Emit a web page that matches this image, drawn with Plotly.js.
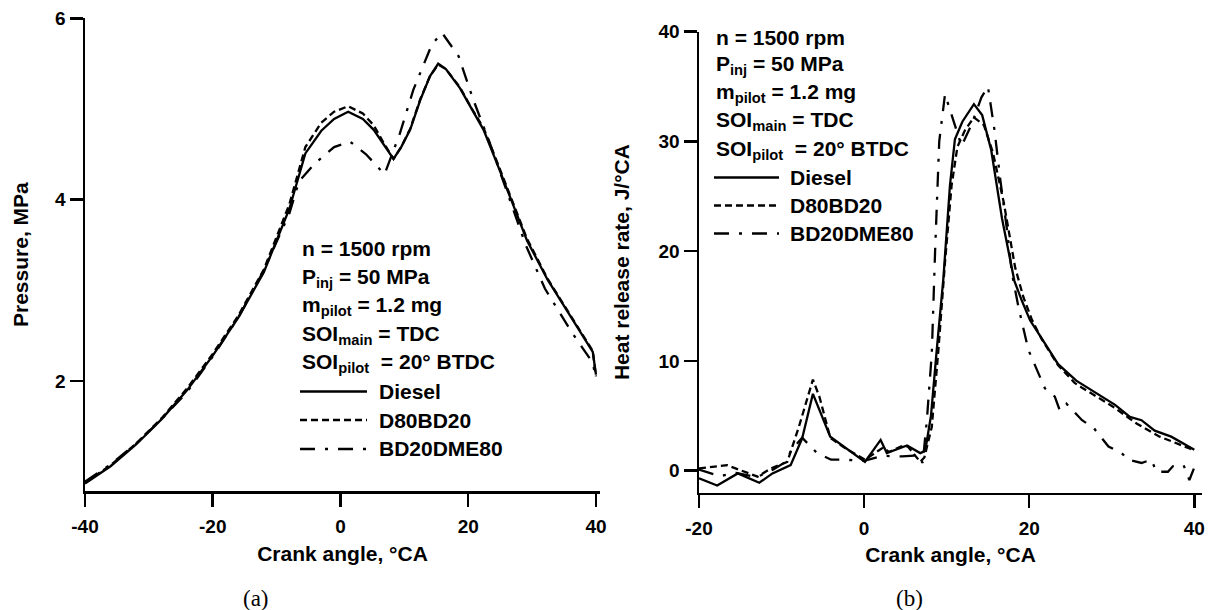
<!DOCTYPE html>
<html><head><meta charset="utf-8">
<script src="https://cdn.plot.ly/plotly-3.0.1.min.js"></script>
<style>html,body{margin:0;padding:0;background:#fff}#chart{width:1214px;height:610px}</style>
</head><body><div id="chart"></div>
<script>
// ---------- data ----------
const seriesNames = ['Diesel', 'D80BD20', 'BD20DME80'];

// (a) cylinder pressure, MPa vs crank angle, °CA
const pressDieselX = [-40, -36, -32, -28, -24, -20, -16, -12, -8, -5.5, -3, -1, 1.2, 3.5, 5.2, 6.8, 8.3, 9.5, 10.9, 12.5, 14, 15.3, 16.5, 18.7, 20.5, 22.4, 24.5, 26.5, 29.2, 32.4, 36, 39.5, 40];
const pressDieselY = [0.87, 1.06, 1.30, 1.58, 1.90, 2.28, 2.70, 3.20, 3.90, 4.51, 4.76, 4.89, 4.97, 4.89, 4.77, 4.60, 4.45, 4.58, 4.77, 5.10, 5.36, 5.50, 5.44, 5.23, 5.00, 4.77, 4.40, 4.03, 3.55, 3.12, 2.72, 2.32, 2.07];
const pressD80X = [-40, -36, -32, -28, -24, -20, -16, -12, -8, -5.5, -3, -1, 1.2, 3.5, 5.2, 6.8, 8.3, 9.5, 10.9, 12.5, 14, 15.3, 16.5, 18.7, 20.5, 22.4, 24.5, 26.5, 29.2, 32.4, 36, 39.5, 40];
const pressD80Y = [0.88, 1.07, 1.31, 1.59, 1.92, 2.30, 2.72, 3.23, 3.95, 4.58, 4.85, 4.97, 5.03, 4.95, 4.82, 4.62, 4.45, 4.58, 4.78, 5.11, 5.36, 5.49, 5.44, 5.24, 5.01, 4.79, 4.42, 4.05, 3.57, 3.13, 2.72, 2.33, 2.05];
const pressDmeX = [-40, -36, -32, -28, -24, -20, -16, -12, -8, -6.5, -4, -1, 1.5, 4, 6.9, 9.3, 11.4, 14.3, 15.9, 18.5, 20.8, 23.4, 26, 29, 32, 36, 39.5, 40];
const pressDmeY = [0.89, 1.08, 1.31, 1.58, 1.88, 2.27, 2.70, 3.22, 3.85, 4.20, 4.40, 4.58, 4.64, 4.50, 4.28, 4.73, 5.21, 5.71, 5.84, 5.58, 5.10, 4.62, 4.10, 3.50, 3.02, 2.56, 2.20, 2.02];

// (b) heat release rate, J/°CA vs crank angle, °CA
const hrrDieselX = [-20, -17.8, -15.3, -12.7, -11.1, -8.9, -7.5, -6.2, -4.1, -2.4, 0.1, 2.0, 2.75, 5.2, 6.8, 7.4, 8.1, 8.8, 9.6, 10.4, 11.0, 11.9, 13.3, 14.3, 15.4, 16.7, 18.2, 19.1, 20.1, 21.3, 23.5, 25.7, 28.0, 30.4, 32.2, 33.6, 35.2, 37.2, 40];
const hrrDieselY = [-0.7, -1.35, -0.25, -1.1, -0.25, 0.5, 2.95, 7.0, 3.1, 2.2, 0.8, 2.8, 1.6, 2.3, 1.6, 1.8, 5.0, 11.0, 17.5, 26.0, 30.2, 31.8, 33.4, 32.4, 29.2, 23.0, 17.3, 15.5, 13.7, 12.3, 9.7, 8.2, 7.1, 6.0, 4.9, 4.6, 3.65, 3.1, 1.9];
const hrrD80X = [-20, -16.6, -12.9, -11.3, -9.3, -7.9, -6.2, -5.4, -4.1, -2.4, 0.1, 1.5, 2.3, 3.0, 4.5, 5.3, 6.8, 7.3, 8.2, 9.0, 9.8, 10.6, 11.3, 12.2, 13.3, 14.5, 15.6, 16.9, 18.3, 19.3, 20.3, 21.5, 23.5, 25.5, 26.5, 28.5, 30.2, 33.0, 35.8, 39.5, 40];
const hrrD80Y = [0.2, 0.5, -0.55, 0.2, 0.8, 4.0, 8.3, 6.7, 3.0, 2.1, 1.0, 1.7, 2.1, 1.7, 2.2, 2.2, 0.8, 1.2, 4.0, 11.0, 19.0, 26.0, 29.5, 31.0, 32.2, 31.5, 29.0, 24.5, 18.5, 15.8, 13.8, 12.0, 9.6, 8.0, 7.5, 6.6, 5.8, 4.3, 3.1, 2.0, 1.8];
const hrrDmeX = [-20, -17.5, -15.5, -13, -11, -9.5, -8.8, -7.5, -5.7, -4, -2.5, 0, 2.2, 4.6, 6.5, 7.1, 7.6, 8.2, 8.6, 9.1, 9.8, 10.8, 11.8, 13.0, 14.2, 15.0, 15.8, 16.5, 17.3, 17.9, 18.7, 19.9, 20.7, 21.9, 23.1, 23.7, 24.5, 26.4, 27.8, 28.6, 29.6, 31.2, 32.0, 33.6, 34.8, 35.4, 36.8, 37.4, 38.7, 39.4, 40];
const hrrDmeY = [0.1, -0.5, -0.2, -0.6, 0.1, 0.8, 1.9, 3.0, 1.6, 1.0, 1.0, 0.9, 1.35, 1.3, 1.4, 0.7, 4.6, 10.7, 20.0, 30.0, 34.3, 32.0, 29.6, 31.5, 34.0, 35.0, 31.0, 26.5, 22.0, 18.0, 14.9, 11.0, 9.6, 7.5, 6.75, 5.5, 6.1, 4.6, 3.9, 3.1, 2.2, 1.6, 1.0, 0.7, 1.0, -0.1, -0.1, 0.4, 0.5, -0.85, 0.3];

const pressTicks = [2, 4, 6];
const pressTickText = ['2', '4', '6'];
const pressXTicks = [-40, -20, 0, 20, 40];
const pressXTickText = ['-40', '-20', '0', '20', '40'];
const hrrTicks = [0, 10, 20, 30, 40];
const hrrTickText = ['0', '10', '20', '30', '40'];
const hrrXTicks = [-20, 0, 20, 40];
const hrrXTickText = ['-20', '0', '20', '40'];

const conditionLines = ['n = 1500 rpm', 'P<sub>inj</sub> = 50 MPa', 'm<sub>pilot</sub> = 1.2 mg', 'SOI<sub>main</sub> = TDC', 'SOI<sub>pilot</sub>\u00a0 = 20° BTDC'];

// ---------- styling ----------
const W = 1214, H = 610;
const fx = px => px / W;
const fy = py => 1 - py / H;
const FONT = 'Liberation Sans, Arial, Helvetica, sans-serif';
const dashes = ['solid', '7px,4px', '15px,10px,3px,10px'];
const LW = 2.3;

const pressX = [pressDieselX, pressD80X, pressDmeX];
const pressY = [pressDieselY, pressD80Y, pressDmeY];
const hrrX = [hrrDieselX, hrrD80X, hrrDmeX];
const hrrY = [hrrDieselY, hrrD80Y, hrrDmeY];

const traces = [];
seriesNames.forEach((name, i) => {
  traces.push({x: pressX[i], y: pressY[i], name: name, mode: 'lines', xaxis: 'x', yaxis: 'y',
    line: {color: '#000', width: LW, dash: dashes[i]}, showlegend: false});
});
seriesNames.forEach((name, i) => {
  traces.push({x: hrrX[i], y: hrrY[i], name: name, mode: 'lines', xaxis: 'x2', yaxis: 'y2',
    line: {color: '#000', width: LW, dash: dashes[i]}, showlegend: false});
});

const tickFont = {family: FONT, size: 19, color: '#000', weight: 'bold'};
const titleFont = {family: FONT, size: 21, color: '#000', weight: 'bold'};
const axisBase = {
  showline: true, linecolor: '#000', linewidth: 2.5, ticks: 'outside', ticklen: 13,
  tickwidth: 2.5, tickcolor: '#000', showgrid: false, zeroline: false,
  tickfont: tickFont, fixedrange: true, tickmode: 'array'
};

const annotations = [];
const shapes = [];
function addBlock(x0, rows, legendRows, lineEnd, textX) {
  conditionLines.forEach((t, k) => {
    annotations.push({xref: 'paper', yref: 'paper', x: fx(x0), y: fy(rows[k] + (t.indexOf('<sub>') >= 0 ? 3 : 0)),
      xanchor: 'left', yanchor: 'middle', text: t, showarrow: false, font: titleFont});
  });
  seriesNames.forEach((name, k) => {
    annotations.push({xref: 'paper', yref: 'paper', x: fx(textX), y: fy(legendRows[k]),
      xanchor: 'left', yanchor: 'middle', text: name, showarrow: false, font: titleFont});
    shapes.push({type: 'line', xref: 'paper', yref: 'paper', x0: fx(x0), x1: fx(lineEnd),
      y0: fy(legendRows[k]), y1: fy(legendRows[k]), line: {color: '#000', width: LW, dash: dashes[k]}});
  });
}
addBlock(300, [248, 275, 303, 331.5, 360], [391.5, 420, 449], 367, 377);
addBlock(714, [37, 62, 90.5, 118.5, 147], [177.5, 205.5, 233.5], 779, 788);

const serif = {family: 'Liberation Serif, Times New Roman, serif', size: 23, color: '#000'};
annotations.push({xref: 'paper', yref: 'paper', x: fx(256), y: fy(598), xanchor: 'center', yanchor: 'middle',
  text: '(a)', showarrow: false, font: serif});
annotations.push({xref: 'paper', yref: 'paper', x: fx(909), y: fy(598), xanchor: 'center', yanchor: 'middle',
  text: '(b)', showarrow: false, font: serif});

const layout = {
  width: W, height: H,
  margin: {l: 0, r: 0, t: 0, b: 0},
  paper_bgcolor: '#fff', plot_bgcolor: '#fff',
  showlegend: false,
  font: {family: FONT, color: '#000'},
  xaxis: Object.assign({}, axisBase, {domain: [fx(85), fx(600)], range: [-40, 40.63], anchor: 'y',
    tickvals: pressXTicks, ticktext: pressXTickText, ticklabelstandoff: 4,
    title: {text: 'Crank angle, °CA', font: titleFont, standoff: 10}}),
  yaxis: Object.assign({}, axisBase, {domain: [fy(491), fy(18.3)], range: [0.787, 6], anchor: 'x',
    tickvals: pressTicks, ticktext: pressTickText,
    title: {text: 'Pressure, MPa', font: titleFont, standoff: 21}}),
  xaxis2: Object.assign({}, axisBase, {domain: [fx(699), fx(1202)], range: [-20, 40.93], anchor: 'y2',
    tickvals: hrrXTicks, ticktext: hrrXTickText, ticklabelstandoff: 4,
    title: {text: 'Crank angle, °CA', font: titleFont, standoff: 10}}),
  yaxis2: Object.assign({}, axisBase, {domain: [fy(492.5), fy(31.7)], range: [-1.99, 40], anchor: 'x2',
    tickvals: hrrTicks, ticktext: hrrTickText,
    title: {text: 'Heat release rate, J/°CA', font: titleFont, standoff: 23}}),
  annotations: annotations,
  shapes: shapes
};

Plotly.newPlot('chart', traces, layout, {staticPlot: true, displayModeBar: false});
</script>
</body></html>
